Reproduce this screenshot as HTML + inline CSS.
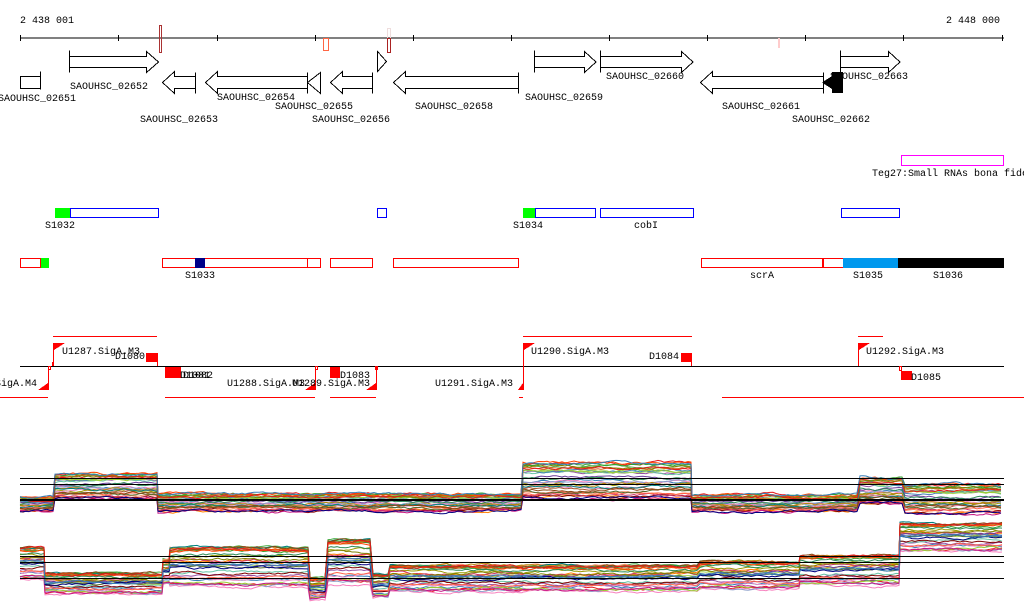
<!DOCTYPE html>
<html><head><meta charset="utf-8"><style>
html,body{margin:0;padding:0;background:#fff;width:1024px;height:611px;overflow:hidden}
svg text{font-family:"Liberation Mono",monospace;font-size:10px;fill:#000}
</style></head><body>
<svg id="s" width="1024" height="611" viewBox="0 0 1024 611" xmlns="http://www.w3.org/2000/svg" shape-rendering="crispEdges">
<text x="20" y="23">2 438 001</text>
<text x="946" y="23">2 448 000</text>
<line x1="20" y1="38" x2="1004" y2="38" stroke="#000"/>
<g stroke="#000">
<line x1="20.5" y1="35" x2="20.5" y2="41"/><line x1="118.5" y1="35" x2="118.5" y2="41"/><line x1="217.5" y1="35" x2="217.5" y2="41"/><line x1="315.5" y1="35" x2="315.5" y2="41"/><line x1="413.5" y1="35" x2="413.5" y2="41"/><line x1="511.5" y1="35" x2="511.5" y2="41"/><line x1="609.5" y1="35" x2="609.5" y2="41"/><line x1="707.5" y1="35" x2="707.5" y2="41"/><line x1="805.5" y1="35" x2="805.5" y2="41"/><line x1="903.5" y1="35" x2="903.5" y2="41"/><line x1="1002.5" y1="35" x2="1002.5" y2="41"/>
</g>
<rect x="159.5" y="25.5" width="2" height="27" fill="none" stroke="#a33"/>
<rect x="323.5" y="38.5" width="5" height="12" fill="none" stroke="#f64"/>
<rect x="387.5" y="28.5" width="3" height="10" fill="none" stroke="#edd"/>
<rect x="387.5" y="38.5" width="3" height="14" fill="none" stroke="#a22"/>
<rect x="778" y="38" width="2" height="10" fill="#fcc"/>
<g fill="#fff" stroke="#000">
<path d="M69.5 50.5V72.5M69.5 56.5H146.5V51.5L158.5 62L146.5 72.5V67.5H69.5"/>
<path d="M534.5 50.5V72.5M534.5 56.5H584.5V51.5L596 62L584.5 72.5V67.5H534.5"/>
<path d="M600.5 50.5V72.5M600.5 56.5H681.5V51.5L693 62L681.5 72.5V67.5H600.5"/>
<path d="M840.5 50.5V72.5M840.5 56.5H888.5V51.5L900 62L888.5 72.5V67.5H840.5"/>
<path d="M377.5 51.5V71.5L386.5 61.5Z"/>
<path d="M40.5 71.5V89.5M40.5 76.5H20.5V88.5H40.5"/>
<path d="M195.5 72.5V93.5M195.5 76.5H174.5V71.5L162.5 82.5L174.5 93.5V88.5H195.5Z"/>
<path d="M307.5 72.5V93.5M307.5 76.5H217.5V71.5L205.5 82.5L217.5 93.5V88.5H307.5Z"/>
<path d="M320.5 72.5V93.5L307.5 82.5Z"/>
<path d="M372.5 72.5V93.5M372.5 76.5H342.5V71.5L330.5 82.5L342.5 93.5V88.5H372.5Z"/>
<path d="M518.5 72.5V93.5M518.5 76.5H405.5V71.5L393.5 82.5L405.5 93.5V88.5H518.5Z"/>
<path d="M823.5 72.5V93.5M823.5 76.5H712.5V71.5L700.5 82.5L712.5 93.5V88.5H823.5Z"/>
</g>
<path d="M843 72V93H832V89L822 82.5L832 76V72Z" fill="#000"/>
<text x="70" y="89">SAOUHSC_02652</text>
<text x="-2" y="101">SAOUHSC_02651</text>
<text x="140" y="122">SAOUHSC_02653</text>
<text x="217" y="100">SAOUHSC_02654</text>
<text x="275" y="109">SAOUHSC_02655</text>
<text x="312" y="122">SAOUHSC_02656</text>
<text x="415" y="109">SAOUHSC_02658</text>
<text x="525" y="100">SAOUHSC_02659</text>
<text x="606" y="79">SAOUHSC_02660</text>
<text x="722" y="109">SAOUHSC_02661</text>
<text x="792" y="122">SAOUHSC_02662</text>
<text x="830" y="79">SAOUHSC_02663</text>

<rect x="901.5" y="155.5" width="102" height="10" fill="none" stroke="#f0f"/>
<text x="872" y="176">Teg27:Small RNAs bona fide</text>

<rect x="55" y="208" width="15" height="10" fill="#0f0"/>
<g fill="none" stroke="#00f">
<rect x="70.5" y="208.5" width="88" height="9"/>
<rect x="377.5" y="208.5" width="9" height="9"/>
<rect x="535.5" y="208.5" width="60" height="9"/>
<rect x="600.5" y="208.5" width="93" height="9"/>
<rect x="841.5" y="208.5" width="58" height="9"/>
</g>
<rect x="523" y="208" width="12" height="10" fill="#0f0"/>
<text x="45" y="228">S1032</text><text x="513" y="228">S1034</text><text x="634" y="228">cobI</text>

<g fill="none" stroke="#f00">
<rect x="20.5" y="258.5" width="20" height="9"/>
<rect x="162.5" y="258.5" width="145" height="9"/>
<rect x="307.5" y="258.5" width="13" height="9"/>
<rect x="330.5" y="258.5" width="42" height="9"/>
<rect x="393.5" y="258.5" width="125" height="9"/>
<rect x="701.5" y="258.5" width="121" height="9"/>
<rect x="823.5" y="258.5" width="20" height="9"/>
</g>
<rect x="41" y="258" width="8" height="10" fill="#0f0"/>
<rect x="195" y="258" width="10" height="10" fill="#008"/>
<rect x="843" y="258" width="55" height="10" fill="#09e"/>
<rect x="898" y="258" width="106" height="10" fill="#000"/>
<text x="185" y="278">S1033</text><text x="750" y="278">scrA</text><text x="853" y="278">S1035</text><text x="933" y="278">S1036</text>

<line x1="20" y1="366.5" x2="1004" y2="366.5" stroke="#000"/>
<g stroke="#f00" fill="none">
<line x1="53" y1="336.5" x2="157" y2="336.5"/><line x1="523" y1="336.5" x2="692" y2="336.5"/><line x1="858" y1="336.5" x2="883" y2="336.5"/>
<line x1="0" y1="397.5" x2="48" y2="397.5"/><line x1="165" y1="397.5" x2="315" y2="397.5"/><line x1="330" y1="397.5" x2="376" y2="397.5"/><line x1="519" y1="397.5" x2="523" y2="397.5"/><line x1="722" y1="397.5" x2="1024" y2="397.5"/>
<line x1="53.5" y1="343" x2="53.5" y2="366"/><line x1="523.5" y1="343" x2="523.5" y2="366"/><line x1="858.5" y1="343" x2="858.5" y2="366"/>
<line x1="157.5" y1="353" x2="157.5" y2="366"/><line x1="691.5" y1="353" x2="691.5" y2="366"/>
<line x1="48.5" y1="366" x2="48.5" y2="390"/><line x1="315.5" y1="366" x2="315.5" y2="390"/><line x1="376.5" y1="366" x2="376.5" y2="390"/><line x1="523.5" y1="366" x2="523.5" y2="390"/>
<rect x="48.5" y="366.5" width="2" height="3"/><rect x="315.5" y="366.5" width="2" height="3"/><rect x="375.5" y="366.5" width="2" height="3"/><rect x="899.5" y="366.5" width="2" height="4"/>
</g>
<g fill="#f00">
<path d="M54 343H65L54 350Z"/><path d="M524 343H535L524 350Z"/><path d="M859 343H870L859 350Z"/>
<path d="M48 383V390H38Z"/><path d="M315 383V390H305Z"/><path d="M376 383V390H366Z"/><path d="M523 383V390H518Z"/>
<rect x="146" y="353" width="11" height="9"/><rect x="681" y="353" width="10" height="9"/>
<rect x="165" y="367" width="16" height="11"/><rect x="330" y="367" width="10" height="11"/><rect x="901" y="371" width="11" height="9"/>
<rect x="52" y="362" width="2" height="4"/>
</g>
<text x="62" y="354">U1287.SigA.M3</text><text x="115" y="359">D1080</text>
<text x="-5" y="386">SigA.M4</text>
<text x="180" y="378">D1081</text><text x="183" y="378">D1082</text>
<text x="227" y="386">U1288.SigA.M3</text><text x="292" y="386">U1289.SigA.M3</text>
<text x="340" y="378">D1083</text><text x="435" y="386">U1291.SigA.M3</text>
<text x="531" y="354">U1290.SigA.M3</text><text x="649" y="359">D1084</text>
<text x="866" y="354">U1292.SigA.M3</text><text x="911" y="380">D1085</text>
<g id="plots" shape-rendering="auto"></g>
<g stroke="#000">
<line x1="20" y1="478.5" x2="1004" y2="478.5"/><line x1="20" y1="484.5" x2="1004" y2="484.5"/><line x1="20" y1="500" x2="1004" y2="500" stroke-width="2"/>
<line x1="20" y1="556.5" x2="1004" y2="556.5"/><line x1="20" y1="562.5" x2="1004" y2="562.5"/><line x1="20" y1="578.5" x2="1004" y2="578.5"/>
</g>
</svg>
<script>
(function(){
var seed=7;function r(){seed=(seed*16807)%2147483647;return seed/2147483647;}
var cols=["#e41a1c","#377eb8","#4daf4a","#984ea3","#ff7f00","#a65628","#f781bf","#999900","#66c2a5","#fc8d62","#8da0cb","#e78ac3","#a6d854","#b8860b","#800000","#008080","#cc3366","#6a3d9a","#33a02c","#ff6347","#4682b4","#9acd32","#d2691e","#c71585","#556b2f","#000080","#808000","#ff4500","#2e8b57","#8b4513"];
var A=[[20,55,497,512],[55,158,474,500],[158,523,494,512],[523,692,463,500],[692,860,495,512],[860,905,478,505],[905,1004,485,515]];
var B=[[20,45,548,580],[45,163,574,594],[163,170,560,585],[170,310,548,588],[310,328,578,600],[328,373,540,585],[373,390,575,598],[390,523,566,592],[523,700,566,592],[700,800,562,590],[800,900,556,586],[900,1004,524,552]];
var g=document.getElementById("plots"),h="";
function draw(S){for(var i=0;i<32;i++){var t=Math.pow(r(),1.3),pts=[],n=0;for(var k=0;k<S.length;k++){var s=S[k];for(var x=s[0];x<s[1];x+=3){n+=(r()-0.5)*2.2;n*=0.85;var y=s[2]+t*(s[3]-s[2])+n;pts.push(x+","+y.toFixed(1));}}
h+='<polyline fill="none" stroke-width="1" stroke="'+cols[i%cols.length]+'" points="'+pts.join(" ")+'"/>';}}
draw(A);draw(B);g.innerHTML=h;
})();
</script>
</body></html>
